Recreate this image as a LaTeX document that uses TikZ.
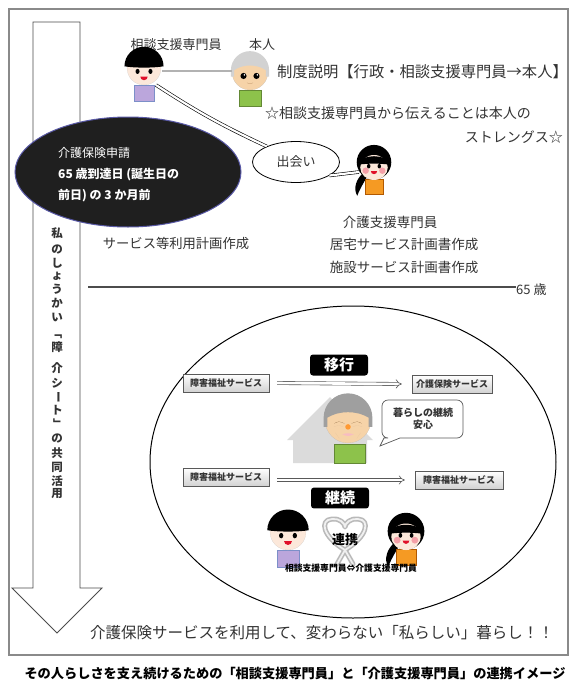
\documentclass[tikz,border=0pt]{standalone}
\usepackage{fontspec}
\setmainfont{Noto Sans CJK JP}
\usetikzlibrary{shapes.geometric,arrows.meta,calc,shadows}

\definecolor{ink}{HTML}{333333}
\definecolor{skin}{HTML}{FCE8DA}
\definecolor{oldskin}{HTML}{F6D3A8}
\definecolor{purp}{HTML}{BBA6DC}
\definecolor{purpline}{HTML}{7C8FC8}
\definecolor{leaf}{HTML}{8DC24B}
\definecolor{orng}{HTML}{F59A23}
\definecolor{cheek}{HTML}{F4A0A8}
\definecolor{lip}{HTML}{E0102A}
\definecolor{framegray}{HTML}{8A8A8A}

\newcommand\fsz[1]{\fontsize{#1}{#1}\selectfont}

\tikzset{
  txt/.style={inner sep=0pt, text=ink},
  dbl/.style={draw=black, double=white, double distance=2.2pt, line width=0.6pt},
  svc/.style={draw=gray!70!black, top color=white, bottom color=gray!35,
    minimum height=18pt, inner sep=1pt, font=\bfseries\fsz{9}, text=ink,
    drop shadow={shadow xshift=1pt, shadow yshift=-1pt, opacity=0.35}},
  tagbox/.style={fill=black, rounded corners=3pt, minimum width=58pt,
    minimum height=20pt, text=white, font=\bfseries\fsz{15}},
  hollow/.style={draw=gray!70!black, double=white, double distance=2.6pt,
    line width=0.6pt, -{Implies}},
  vchar/.style={inner sep=0pt, font=\bfseries\fsz{11.5}, text=ink},
  % a boy with a bowl cut and a purple shirt
  pics/boy/.style={code={
    \filldraw[fill=purp, draw=purpline, line width=0.05] (-0.6,-1.02) rectangle (0.6,-1.95);
    \filldraw[fill=skin, draw=gray!50, line width=0.04] (0,0) circle (1);
    \fill[black] (-1.15,0.1) arc[start angle=180, end angle=0, radius=1.15]
      .. controls (0.6,0.0) and (-0.6,0.0) .. cycle;
    \fill[black] (-0.38,-0.2) ellipse (0.12 and 0.15);
    \fill[black] (0.38,-0.2) ellipse (0.12 and 0.15);
    \fill[lip] (-0.22,-0.5) arc[start angle=180, end angle=360, radius=0.22] -- cycle;
  }},
  % a girl with a ponytail and an orange shirt
  pics/girl/.style={code={
    \fill[black] (-0.6,-0.55) .. controls (-1.15,-1.0) and (-1.3,-1.6) .. (-1.05,-2.05)
      .. controls (-0.85,-1.55) and (-0.55,-1.05) .. (-0.35,-0.75) -- cycle;
    \filldraw[fill=orng, draw=orange!70!black, line width=0.04] (-0.58,-1.02) rectangle (0.58,-1.95);
    \fill[black] (0,0.05) circle (1.08);
    \fill[skin] (0,-0.28) ellipse (0.86 and 0.78);
    \fill[black] (-0.95,-0.1) .. controls (-0.9,0.6) and (0.9,0.6) .. (0.95,-0.1)
      .. controls (0.4,-0.02) and (-0.4,-0.02) .. cycle;
    \fill[cheek] (-0.52,-0.48) circle (0.2);
    \fill[cheek] (0.52,-0.48) circle (0.2);
    \fill[black] (-0.33,-0.2) ellipse (0.11 and 0.14);
    \fill[black] (0.33,-0.2) ellipse (0.11 and 0.14);
    \fill[lip] (-0.2,-0.5) arc[start angle=180, end angle=360, radius=0.2] -- cycle;
  }},
  % an elderly person with grey hair and a green shirt
  pics/elder/.style={code={
    \filldraw[fill=leaf, draw=leaf!70!black, line width=0.04] (-0.62,-1.02) rectangle (0.62,-1.88);
    \filldraw[fill=oldskin, draw=gray!60, line width=0.04] (0,0) circle (1);
    \fill[gray!35] (-1.06,-0.25) -- (-1.06,0.1) arc[start angle=180, end angle=0, radius=1.06]
      -- (1.06,-0.25) -- (0.88,-0.25) -- (0.88,0.1)
      .. controls (0.4,0.45) and (-0.4,0.45) .. (-0.88,0.1) -- (-0.88,-0.25) -- cycle;
    \fill[black] (-0.36,-0.22) circle (0.17);
    \fill[black] (0.36,-0.22) circle (0.17);
    \fill[white] (-0.31,-0.16) circle (0.05);
    \fill[white] (0.41,-0.16) circle (0.05);
    \draw[brown!70!black, line width=0.05] (-0.18,-0.6) .. controls (0,-0.66) .. (0.18,-0.6);
  }},
  % the same person with a smiling, eyes-closed face
  pics/elderglad/.style={code={
    \filldraw[fill=leaf, draw=leaf!70!black, line width=0.03] (-0.6,-1.04) rectangle (0.74,-1.88);
    \filldraw[fill=oldskin, draw=gray!60, line width=0.03] (0,0) circle (1);
    \fill[gray!75] (-1.06,-0.3) -- (-1.06,0.1) arc[start angle=180, end angle=0, radius=1.06]
      -- (1.06,-0.3) -- (0.9,-0.3) -- (0.9,0.1)
      .. controls (0.4,0.42) and (-0.4,0.42) .. (-0.9,0.1) -- (-0.9,-0.3) -- cycle;
    \draw[brown!60!black, line width=0.06] (-0.6,-0.15) .. controls (-0.4,-0.05) .. (-0.15,-0.15);
    \draw[brown!60!black, line width=0.06] (0.15,-0.15) .. controls (0.4,-0.05) .. (0.6,-0.15);
    \draw[brown!50, line width=0.04] (-0.62,-0.3) .. controls (-0.4,-0.22) .. (-0.2,-0.3);
    \draw[brown!50, line width=0.04] (0.2,-0.3) .. controls (0.4,-0.22) .. (0.62,-0.3);
    \fill[orange!80] (0,-0.3) circle (0.12);
    \fill[cheek!70] (-0.25,-0.62) .. controls (0,-0.72) .. (0.25,-0.62) .. controls (0,-0.56) .. cycle;
    \draw[brown!50, line width=0.03] (-0.55,-0.55) .. controls (-0.5,-0.7) .. (-0.38,-0.8);
    \draw[brown!50, line width=0.03] (0.55,-0.55) .. controls (0.5,-0.7) .. (0.38,-0.8);
  }},
}

\begin{document}
\begin{tikzpicture}[x=1pt, y=1pt]
\useasboundingbox (0,0) rectangle (573,-689);
\fill[white] (0,0) rectangle (573,-689);

% outer frame
\draw[framegray, line width=1.3] (9,-9) rectangle (568,-655);

% the long downward arrow on the left
\draw[gray!60!black, line width=0.9, fill=white]
  (33,-22) -- (80,-22) -- (80,-588) -- (102,-588) -- (57,-633)
  -- (12,-588) -- (33,-588) -- cycle;

% vertical caption inside the arrow
\foreach \c/\yy/\r [count=\i] in {私/233/0, の/249/0, し/263/0, ょ/276/0, う/289/0,
    か/303/0, い/317/0, 「/333/-90, 障/347/0, 介/368/0, シ/383/0, ー/397/-90,
    ト/410/0, 」/424/-90, の/438/0, 共/453/0, 同/467/0, 活/481/0, 用/494/0}
  \node[vchar, rotate=\r] (vt\i) at (57,-\yy) {\c};

% application ellipse
\node[ellipse, fill=black!88, draw=blue!30!gray, line width=1,
      minimum width=226pt, minimum height=110pt, inner sep=0pt] (apply) at (128,-172) {};
\node[txt, text=white, anchor=west, font=\fsz{12}] (ap1) at (58,-153) {介護保険申請};
\node[txt, text=white, anchor=west, font=\bfseries\fsz{12}] (ap2) at (58,-175) {65 歳到達日 (誕生日の};
\node[txt, text=white, anchor=west, font=\bfseries\fsz{12}] (ap3) at (58,-196) {前日) の 3 か月前};

% top figures and their labels
\node[txt, font=\fsz{13}] (lblsup) at (176,-45) {相談支援専門員};
\node[txt, font=\fsz{13}] (lblself) at (262,-45) {本人};
\pic at (144,-68) [scale=17] {boy};
\pic at (250,-72) [scale=18] {elder};
\coordinate (boyR) at (162,-71);
\coordinate (elderL) at (232,-71);
\draw[gray!60, line width=1.2] (boyR) -- (elderL);

\node[txt, anchor=west, font=\fsz{15.3}] (sysexp) at (277,-72) {制度説明【行政・相談支援専門員→本人】};
\node[txt, anchor=west, font=\fsz{14}] (str1) at (265,-113) {☆相談支援専門員から伝えることは本人の};
\node[txt, anchor=east, font=\fsz{14}] (str2) at (563,-137) {ストレングス☆};

% meeting
\node[ellipse, draw=black, line width=0.8, fill=white, minimum width=87pt,
      minimum height=41pt, inner sep=0pt, font=\fsz{13}, text=ink] (meet) at (296,-162) {出会い};
\coordinate (boyFoot) at (156,-85);
\draw[dbl] (boyFoot) to[bend right=4] (meet.152);
\pic at (374,-163) [scale=16] {girl};
\coordinate (girlL) at (359,-172);
\draw[dbl] (meet.-22) -- (girlL);

% plans
\node[txt, font=\fsz{13.5}] (cm) at (390,-222) {介護支援専門員};
\node[txt, font=\fsz{13.5}] (plan1) at (404,-244) {居宅サービス計画書作成};
\node[txt, font=\fsz{13.5}] (plan2) at (404,-267) {施設サービス計画書作成};
\node[txt, font=\fsz{13.3}] (plan0) at (176,-243) {サービス等利用計画作成};

% age line
\coordinate (ageL) at (88,-287);
\node[txt, anchor=west, font=\fsz{13}] (age) at (516,-290) {65 歳};
\draw[black!70, line width=2.6] (ageL) -- (age.west |- ageL);

% big ellipse after 65
\node[ellipse, draw=black, line width=1, minimum width=406pt, minimum height=312pt,
      inner sep=0pt] (after) at (353,-462) {};

% house behind the elder
\fill[gray!28] (293,-463) -- (293,-440) -- (287,-440) -- (330,-397) -- (373,-440)
  -- (367,-440) -- (367,-463) -- cycle;
\pic at (348,-420) [scale=23] {elderglad};

% speech bubble
\filldraw[fill=white, draw=gray!70!black, line width=0.7]
  (400,-438) [rounded corners=6pt] -- (463,-438) -- (463,-400) -- (382,-400)
  -- (382,-438) [sharp corners] -- (384,-438) -- (380,-446) -- cycle;
\node[txt, align=center, font=\bfseries\fsz{10}] (bubble) at (423,-419) {暮らしの継続\\[2pt]安心};

% service transitions
\node[tagbox] (ikou) at (339,-365) {移行};
\node[svc, minimum width=86pt] (s1) at (226,-383) {障害福祉サービス};
\node[svc, minimum width=80pt] (s2) at (452,-384) {介護保険サービス};
\draw[hollow] ([xshift=8pt]s1.east) -- ([xshift=-10pt]s2.west);

\node[svc, minimum width=86pt] (s3) at (226,-477) {障害福祉サービス};
\node[svc, minimum width=88pt] (s4) at (459,-480) {障害福祉サービス};
\draw[hollow] ([xshift=8pt]s3.east |- s4.west) -- ([xshift=-10pt]s4.west);
\node[tagbox] (keizoku) at (340,-498) {継続};

% cooperation
\pic at (288,-532) [scale=18] {boy};
\pic at (406,-532) [scale=17] {girl};
\begin{scope}[shift={(345,-533)}]
  \path[draw=gray!55, line width=5pt, line cap=round, line join=round]
    (8,-31) -- (0,-17) .. controls (-22,-4) and (-26,13) .. (-13,14)
    .. controls (-6,15) and (0,10) .. (0,6)
    .. controls (0,10) and (6,15) .. (13,14)
    .. controls (26,13) and (22,-4) .. (0,-17) -- (-8,-31);
  \path[draw=gray!12, line width=1.8pt, line cap=round, line join=round]
    (8,-31) -- (0,-17) .. controls (-22,-4) and (-26,13) .. (-13,14)
    .. controls (-6,15) and (0,10) .. (0,6)
    .. controls (0,10) and (6,15) .. (13,14)
    .. controls (26,13) and (22,-4) .. (0,-17) -- (-8,-31);
\end{scope}
\node[txt, text=black, font=\bfseries\fsz{13}] (renkei) at (345,-540) {連携};
\node[txt, text=black, font=\bfseries\fsz{8.8}] (pair) at (351,-568) {相談支援専門員⇔介護支援専門員};

% closing message and caption
\node[txt, anchor=west, font=\fsz{15.5}] (msg) at (90,-633) {介護保険サービスを利用して、変わらない「私らしい」暮らし！！};
\node[txt, text=black, font=\bfseries\fsz{13.2}] (caption) at (295,-673) {その人らしさを支え続けるための「相談支援専門員」と「介護支援専門員」の連携イメージ};
\end{tikzpicture}
\end{document}
